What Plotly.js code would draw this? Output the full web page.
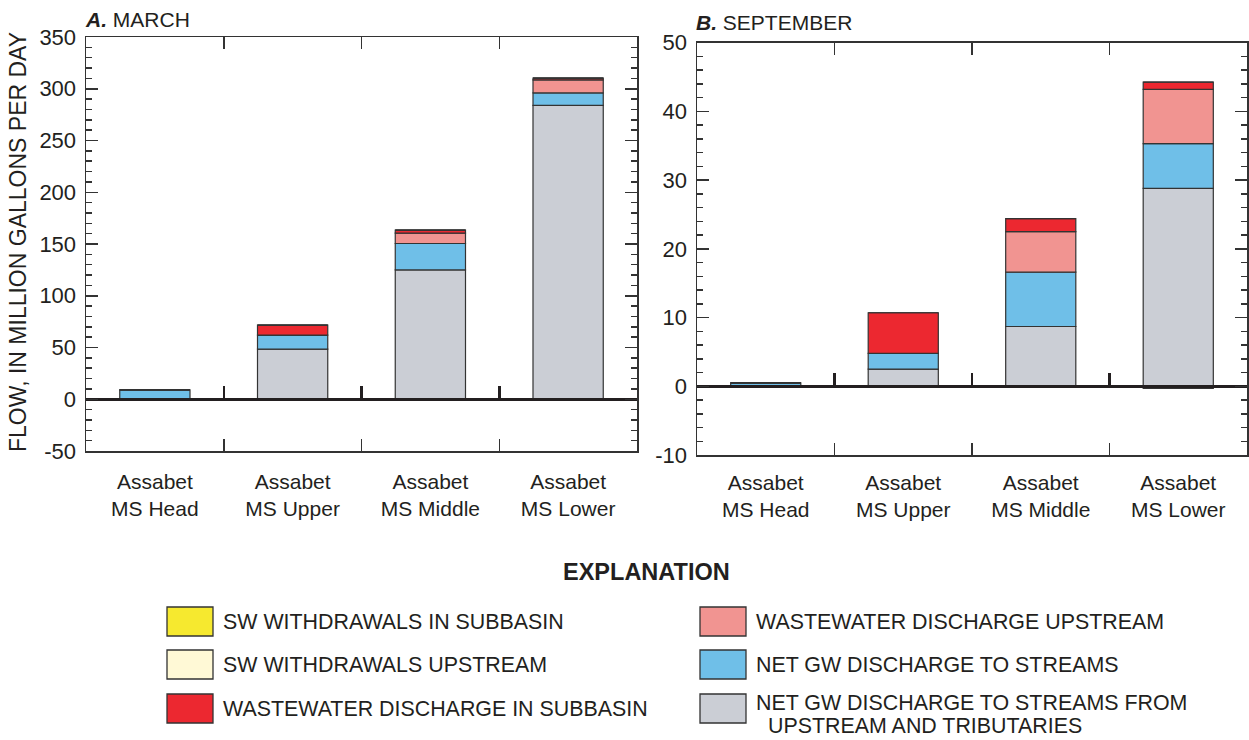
<!DOCTYPE html>
<html>
<head>
<meta charset="utf-8">
<script src="https://cdn.plot.ly/plotly-3.0.1.min.js"></script>
<style>
  html, body { margin: 0; padding: 0; background: #fff; }
  #chart { width: 1249px; height: 740px; }
</style>
</head>
<body>
<div id="chart"></div>
<script>
// ---------- DATA ----------
var categories = ["Assabet<br>MS Head", "Assabet<br>MS Upper", "Assabet<br>MS Middle", "Assabet<br>MS Lower"];

// March (million gallons per day)
var marchGwUpstream   = [0, 48.5, 125, 284];
var marchGwNet        = [9, 13.5, 25.5, 12];
var marchWwUpstream   = [0, 0, 10, 12.5];
var marchWwSubbasin   = [0, 9.7, 3, 1.7];
var marchSwSubbasin   = [0, 0, 0, 0];
var marchSwUpstream   = [0, 0, 0, 0];

// September (million gallons per day)
var septGwUpstream    = [0, 2.5, 8.7, 28.8];
var septGwNet         = [0.5, 2.3, 7.9, 6.5];
var septWwUpstream    = [0, 0, 5.9, 7.9];
var septWwSubbasin    = [0, 5.9, 1.9, 1.05];
var septSwSubbasin    = [0, 0, 0, -0.3];
var septSwUpstream    = [0, -0.1, -0.1, 0];

// tick labels (hyphen minus as in the original)
var marchTickVals   = [-50, 0, 50, 100, 150, 200, 250, 300, 350];
var marchTickText   = ["-50", "0", "50", "100", "150", "200", "250", "300", "350"];
var septTickVals    = [-10, 0, 10, 20, 30, 40, 50];
var septTickText    = ["-10", "0", "10", "20", "30", "40", "50"];

var seriesNames = [
  "SW WITHDRAWALS IN SUBBASIN",
  "SW WITHDRAWALS UPSTREAM",
  "WASTEWATER DISCHARGE IN SUBBASIN",
  "WASTEWATER DISCHARGE UPSTREAM",
  "NET GW DISCHARGE TO STREAMS",
  "NET GW DISCHARGE TO STREAMS FROM<br>UPSTREAM AND TRIBUTARIES"
];
var seriesColors = ["#F6E92F", "#FFF9D6", "#EC2830", "#F19491", "#6FBFE8", "#CBCED5"];

var panelTitles = ["<b><i>A.</i></b> MARCH", "<b><i>B.</i></b> SEPTEMBER"];
var yTitle = "FLOW, IN MILLION GALLONS PER DAY";
var legendTitle = "EXPLANATION";

// ---------- LAYOUT HELPERS ----------
var W = 1249, H = 740;
function px(x) { return x / W; }
function py(y) { return 1 - y / H; }
var FONT = "Liberation Sans, Arial, Helvetica, sans-serif";
var TXT = "#231F20";
var LINE = "#333333";

// stacking order (bottom to top) with series index
var marchSets = [
  [marchGwUpstream, 5], [marchGwNet, 4], [marchWwUpstream, 3], [marchWwSubbasin, 2],
  [marchSwSubbasin, 0], [marchSwUpstream, 1]
];
var septSets = [
  [septGwUpstream, 5], [septGwNet, 4], [septWwUpstream, 3], [septWwSubbasin, 2],
  [septSwSubbasin, 0], [septSwUpstream, 1]
];

var traces = [];
function addPanel(sets, xa, ya) {
  sets.forEach(function (s) {
    traces.push({
      type: "bar",
      x: categories,
      y: s[0],
      name: seriesNames[s[1]].replace("<br>", " "),
      xaxis: xa, yaxis: ya,
      marker: { color: seriesColors[s[1]], line: { color: LINE, width: 1.2 } },
      showlegend: false,
      hoverinfo: "y+name"
    });
  });
}
addPanel(marchSets, "x", "y");
addPanel(septSets, "x2", "y2");

// domains in pixel terms
var A = { x0: 86, x1: 637, y0: 37, y1: 451, r: [-50, 350] };
var B = { x0: 697, x1: 1247, y0: 42.7, y1: 455, r: [-10, 50] };
function zeroPos(P) {
  var f = (0 - P.r[0]) / (P.r[1] - P.r[0]);
  var d0 = py(P.y1), d1 = py(P.y0);
  return d0 + f * (d1 - d0);
}
var catRange = [-0.5, categories.length - 0.5];

function catAxis(P, extra) {
  var ax = {
    domain: [px(P.x0), px(P.x1)],
    type: "category",
    range: catRange,
    tickson: "boundaries",
    ticks: "inside",
    ticklen: 12,
    tickwidth: 1.5,
    tickcolor: LINE,
    showline: true,
    linecolor: LINE,
    linewidth: 1.5,
    mirror: "ticks",
    showgrid: false,
    zeroline: false,
    automargin: false,
    ticklabelstandoff: 11,
    tickfont: { family: FONT, size: 21, color: TXT },
    fixedrange: true
  };
  for (var k in extra) ax[k] = extra[k];
  return ax;
}
function valAxis(P, tv, tt, minorDtick, extra) {
  var ax = {
    domain: [py(P.y1), py(P.y0)],
    range: P.r,
    tickmode: "array",
    tickvals: tv,
    ticktext: tt,
    ticks: "inside",
    ticklen: 12,
    tickwidth: 1.5,
    tickcolor: LINE,
    minor: { dtick: minorDtick, tick0: 0, ticks: "inside", ticklen: 6, tickwidth: 1.5, tickcolor: LINE, showgrid: false },
    showline: true,
    linecolor: LINE,
    linewidth: 1.5,
    mirror: "ticks",
    showgrid: false,
    zeroline: true,
    zerolinecolor: "#231F20",
    zerolinewidth: 3,
    automargin: false,
    ticklabelstandoff: 4,
    tickfont: { family: FONT, size: 22, color: TXT },
    fixedrange: true
  };
  for (var k in extra) ax[k] = extra[k];
  return ax;
}
function zeroTickAxis(P, overlay) {
  return {
    overlaying: overlay,
    anchor: "free",
    position: zeroPos(P),
    domain: [px(P.x0), px(P.x1)],
    type: "category",
    range: catRange,
    tickson: "boundaries",
    ticks: "inside",
    ticklen: 12,
    tickwidth: 2.5,
    tickcolor: "#231F20",
    showline: true,
    linecolor: "#231F20",
    linewidth: 3,
    showticklabels: false,
    showgrid: false,
    zeroline: false,
    automargin: false,
    fixedrange: true
  };
}

// helper traces so the zero-line axes carry the categories
traces.push({ type: "scatter", x: categories, y: [0, 0, 0, 0], xaxis: "x3", yaxis: "y", mode: "none", showlegend: false, hoverinfo: "skip" });
traces.push({ type: "scatter", x: categories, y: [0, 0, 0, 0], xaxis: "x4", yaxis: "y2", mode: "none", showlegend: false, hoverinfo: "skip" });

var annotations = [
  { text: panelTitles[0], x: px(83), y: py(20), xref: "paper", yref: "paper", xanchor: "left", yanchor: "middle", showarrow: false, font: { family: FONT, size: 21, color: TXT } },
  { text: panelTitles[1], x: px(694), y: py(22), xref: "paper", yref: "paper", xanchor: "left", yanchor: "middle", showarrow: false, font: { family: FONT, size: 21, color: TXT } },
  { text: yTitle, x: px(18), y: py(242), xref: "paper", yref: "paper", xanchor: "center", yanchor: "middle", textangle: -90, showarrow: false, font: { family: FONT, size: 23, color: TXT } },
  { text: "<b>" + legendTitle + "</b>", x: px(646), y: py(572), xref: "paper", yref: "paper", xanchor: "center", yanchor: "middle", showarrow: false, font: { family: FONT, size: 23.5, color: TXT } }
];
var shapes = [];

// explanation (legend) built from series names & colours
var legCols = [167, 700];
var legRows = [622, 665, 709];
for (var i = 0; i < seriesNames.length; i++) {
  var c = Math.floor(i / 3), r = i % 3;
  var bx = legCols[c], by = legRows[r];
  shapes.push({
    type: "rect", xref: "paper", yref: "paper",
    x0: px(bx), x1: px(bx + 46), y0: py(by - 15), y1: py(by + 14),
    fillcolor: seriesColors[i], line: { color: LINE, width: 1.3 }
  });
  var lines = seriesNames[i].split("<br>");
  var startY = lines.length > 1 ? by - 6 : by;
  for (var j = 0; j < lines.length; j++) {
    annotations.push({
      text: lines[j], x: px(bx + 55 + (j > 0 ? 12 : 0)), y: py(startY + j * 23),
      xref: "paper", yref: "paper", xanchor: "left", yanchor: "middle",
      align: "left", showarrow: false, borderpad: 0,
      font: { family: FONT, size: 21.4, color: TXT }
    });
  }
}

var layout = {
  width: W, height: H,
  margin: { l: 0, r: 0, t: 0, b: 0 },
  paper_bgcolor: "#ffffff",
  plot_bgcolor: "rgba(0,0,0,0)",
  barmode: "relative",
  bargap: 0.49,
  showlegend: false,
  xaxis: catAxis(A, { anchor: "y" }),
  yaxis: valAxis(A, marchTickVals, marchTickText, 10, { anchor: "x" }),
  xaxis2: catAxis(B, { anchor: "y2", ticklabelstandoff: 8 }),
  yaxis2: valAxis(B, septTickVals, septTickText, 2, { anchor: "x2" }),
  xaxis3: zeroTickAxis(A, "x"),
  xaxis4: zeroTickAxis(B, "x2"),
  annotations: annotations,
  shapes: shapes,
  font: { family: FONT, color: TXT }
};

Plotly.newPlot("chart", traces, layout, { displayModeBar: false, staticPlot: true });
</script>
</body>
</html>
